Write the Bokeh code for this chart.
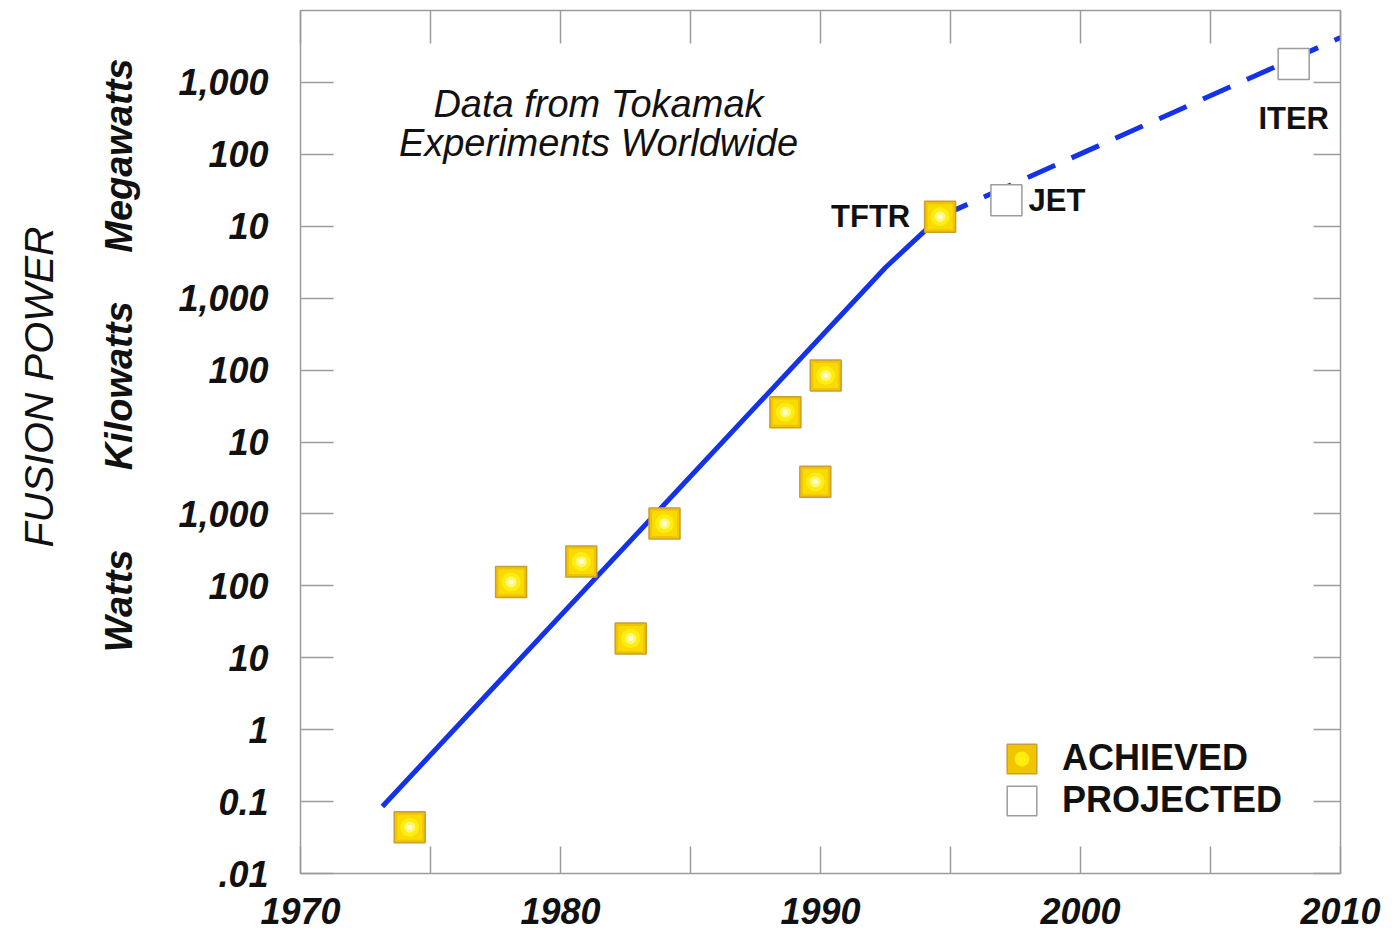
import math
from bokeh.plotting import figure
from bokeh.models import (Range1d, FixedTicker, LogAxis, LinearAxis, Label, Title,
                          Legend, LegendItem, ColumnDataSource)
from bokeh.embed import file_html
from bokeh.resources import INLINE

# ---------------- data ----------------
achieved_name = ["", "", "", "", "", "", "", "", "TFTR"]
achieved_year = [1974.2, 1978.1, 1980.8, 1982.7, 1984.0, 1988.65, 1989.8, 1990.2, 1994.6]
achieved_power_w = [0.044, 113, 218, 18.5, 735, 2.6e4, 2.8e3, 8.4e4, 1.36e7]

projected_name = ["JET", "ITER"]
projected_year = [1997.15, 2008.2]
projected_power_w = [2.3e7, 1.8e9]

trend_year = [1973.15, 1992.5, 1994.6]
trend_power_w = [0.0855, 2.67e6, 1.36e7]
proj_trend_year = [1994.6, 2010.0]
proj_trend_power_w = [1.36e7, 4.2e9]

y_ticks = [1e-2, 1e-1, 1.0, 10.0, 100.0, 1e3, 1e4, 1e5, 1e6, 1e7, 1e8, 1e9]
y_tick_labels = [".01", "0.1", "1", "10", "100", "1,000",
                 "10", "100", "1,000", "10", "100", "1,000"]
x_ticks = [1970, 1975, 1980, 1985, 1990, 1995, 2000, 2005, 2010]
x_tick_labels = ["1970", "", "1980", "", "1990", "", "2000", "", "2010"]

# unit names along the y axis (value = where the upper end of each word sits)
unit_labels = ["Watts", "Kilowatts", "Megawatts"]
unit_label_top_power = [320.0, 9.0e5, 2.15e9]
y_title = "FUSION POWER"

# ---------------- styling ----------------
FONT = "Liberation Sans"
BLUE = "#1432E6"
GRAY = "#9c9c9c"
INK = "#111111"

p = figure(width=1398, height=937,
           x_range=Range1d(1970, 2010), y_range=Range1d(1e-2, 1e10),
           y_axis_type="log", output_backend="svg", toolbar_location=None,
           min_border_left=300, min_border_right=58,
           min_border_top=10, min_border_bottom=64,
           background_fill_color="white", border_fill_color="white")
p.grid.visible = False
p.outline_line_color = GRAY
p.outline_line_width = 1.5

# bottom axis
xa = p.xaxis[0]
xa.ticker = FixedTicker(ticks=x_ticks)
xa.major_label_overrides = {t: l for t, l in zip(x_ticks, x_tick_labels)}
xa.major_tick_in = 27
xa.major_tick_out = 0
xa.minor_tick_line_color = None
xa.axis_line_color = GRAY
xa.major_tick_line_color = GRAY
xa.major_tick_line_width = 1.5
xa.major_label_standoff = 24
xa.major_label_text_font = FONT
xa.major_label_text_font_size = "36px"
xa.major_label_text_font_style = "bold italic"
xa.major_label_text_color = INK

# left axis (numbers)
ya = p.yaxis[0]
ya.ticker = FixedTicker(ticks=y_ticks)
ya.major_label_overrides = {t: l for t, l in zip(y_ticks, y_tick_labels)}
ya.major_tick_in = 33
ya.major_tick_out = 0
ya.minor_tick_line_color = None
ya.axis_line_color = GRAY
ya.major_tick_line_color = GRAY
ya.major_tick_line_width = 1.5
ya.major_label_standoff = 32
ya.major_label_text_font = FONT
ya.major_label_text_font_size = "36px"
ya.major_label_text_font_style = "bold italic"
ya.major_label_text_color = INK

# left axis (units) - text only
ua = LogAxis(ticker=FixedTicker(ticks=unit_label_top_power),
             major_label_overrides={t: l for t, l in zip(unit_label_top_power, unit_labels)},
             major_label_orientation=math.pi / 2,
             major_tick_line_color=None, minor_tick_line_color=None,
             axis_line_color=None, major_tick_in=0, major_tick_out=0,
             major_label_standoff=56, major_label_text_font=FONT,
             major_label_text_font_size="38px",
             major_label_text_font_style="bold italic",
             major_label_text_color=INK)
p.add_layout(ua, "left")

# y title as a side title
yt = Title(text=y_title, align="left", offset=326, standoff=25,
           text_font=FONT, text_font_size="41px", text_font_style="italic",
           text_color=INK)
p.add_layout(yt, "left")

# right and top tick-only axes
ra = LogAxis(ticker=FixedTicker(ticks=y_ticks), major_tick_in=27, major_tick_out=0,
             minor_tick_line_color=None, axis_line_color=GRAY,
             major_tick_line_color=GRAY, major_tick_line_width=1.5,
             major_label_text_font_size="0px", major_label_standoff=0,
             major_label_text_color=None)
p.add_layout(ra, "right")
ta = LinearAxis(ticker=FixedTicker(ticks=x_ticks), major_tick_in=33, major_tick_out=0,
                minor_tick_line_color=None, axis_line_color=GRAY,
                major_tick_line_color=GRAY, major_tick_line_width=1.5,
                major_label_text_font_size="0px", major_label_standoff=0,
                major_label_text_color=None)
p.add_layout(ta, "above")

# trend lines
p.line(trend_year, trend_power_w, line_color=BLUE, line_width=5, line_join="round")
p.line(proj_trend_year, proj_trend_power_w, line_color=BLUE, line_width=5,
       line_dash="30 18", line_cap="butt")

# achieved squares with a fake radial glow
ach = ColumnDataSource(dict(x=achieved_year, y=achieved_power_w))
base = p.rect("x", "y", width=31, height=31, width_units="screen", height_units="screen",
              source=ach, fill_color="#F2C400", line_color="#C8A030", line_width=1.5)
p.rect("x", "y", width=25, height=25, width_units="screen", height_units="screen",
       source=ach, fill_color="#FADB00", line_color=None)
glow1 = p.scatter("x", "y", size=19, marker="circle", source=ach,
                  fill_color="#FFEC10", line_color=None)
p.scatter("x", "y", size=11, marker="circle", source=ach,
          fill_color="#FFF774", line_color=None)
p.scatter("x", "y", size=5, marker="circle", source=ach,
          fill_color="#FFFFE0", line_color=None)

# projected squares
proj = ColumnDataSource(dict(x=projected_year, y=projected_power_w))
proj_r = p.rect("x", "y", width=31, height=31, width_units="screen", height_units="screen",
                source=proj, fill_color="white", line_color=GRAY, line_width=1.5)

# point labels
def lab(text, x, y, align, size="31px", style="bold"):
    p.add_layout(Label(x=x, y=y, text=text, text_font=FONT, text_font_size=size,
                       text_font_style=style, text_align=align, text_baseline="middle",
                       text_color=INK))

lab(achieved_name[-1], achieved_year[-1] - 1.15, achieved_power_w[-1], "right")
lab(projected_name[0], projected_year[0] + 0.85, projected_power_w[0], "left")
lab(projected_name[1], projected_year[1], projected_power_w[1] / 10 ** 0.76, "center")

# caption inside plot
lab("Data from Tokamak", 1981.46, 10 ** 8.706, "center", size="38px", style="italic")
lab("Experiments Worldwide", 1981.46, 10 ** 8.164, "center", size="38px", style="italic")

# legend
legend = Legend(items=[LegendItem(label="ACHIEVED", renderers=[base, glow1]),
                       LegendItem(label="PROJECTED", renderers=[proj_r])],
                location=(703, 52), glyph_width=37, glyph_height=37,
                label_standoff=22, spacing=0, padding=0, margin=0,
                label_text_font=FONT, label_text_font_size="36px",
                label_text_font_style="bold", label_text_color=INK,
                border_line_color=None, background_fill_alpha=0)
p.add_layout(legend)

open("out.html", "w").write(file_html(p, INLINE))
